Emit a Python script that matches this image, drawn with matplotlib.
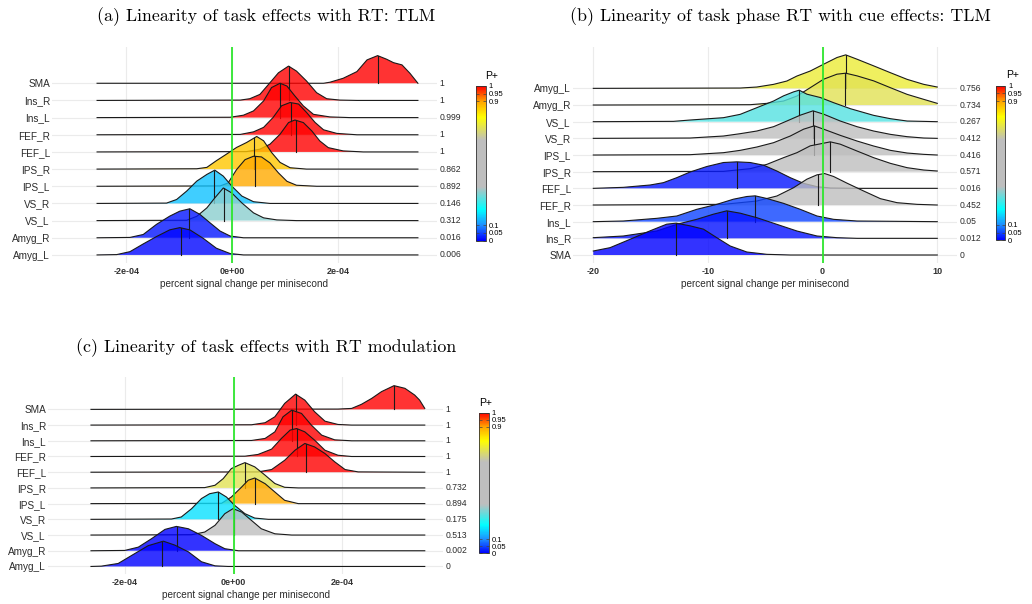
import numpy as np
import matplotlib
matplotlib.use("Agg")
import matplotlib.pyplot as plt
import matplotlib.transforms as mtransforms
from matplotlib.colors import LinearSegmentedColormap, Normalize
from matplotlib.cm import ScalarMappable

plt.rcParams["font.family"] = ["Liberation Sans", "DejaVu Sans"]

W, H = 1032, 604
XLABEL = "percent signal change per minisecond"

# =====================================================
#  data (ridge knots; heights in row units)
# =====================================================
# (a) task effects with RT: TLM   (x in 1e-4)
A_TITLE = "(a) Linearity of task effects with RT: TLM"
A_REGIONS = ["SMA", "Ins_R", "Ins_L", "FEF_R", "FEF_L", "IPS_R", "IPS_L", "VS_R", "VS_L", "Amyg_R", "Amyg_L"]
A_P = [1, 1, 0.999, 1, 1, 0.862, 0.892, 0.146, 0.312, 0.016, 0.006]
A_MED = [2.74, 1.06, 0.90, 1.10, 1.20, 0.40, 0.42, -0.35, -0.16, -0.81, -0.97]
A_RANGE = (-2.55, 3.50)
A_X = [
    [1.72, 1.84, 2.09, 2.35, 2.54, 2.74, 2.91, 3.04, 3.20, 3.35, 3.50],
    [0.15, 0.33, 0.52, 0.71, 0.87, 1.06, 1.21, 1.40, 1.59, 1.78, 2.03, 2.35],
    [-0.04, 0.21, 0.40, 0.59, 0.74, 0.90, 1.03, 1.18, 1.34, 1.53, 1.84, 2.22],
    [0.15, 0.40, 0.59, 0.77, 0.93, 1.09, 1.25, 1.40, 1.56, 1.72, 1.97, 2.35],
    [0.27, 0.52, 0.71, 0.90, 1.06, 1.18, 1.34, 1.50, 1.65, 1.81, 2.09, 2.47],
    [-0.67, -0.48, -0.30, -0.11, 0.08, 0.27, 0.46, 0.59, 0.74, 0.90, 1.09, 1.40],
    [-0.23, -0.08, 0.08, 0.24, 0.40, 0.55, 0.71, 0.87, 1.03, 1.21, 1.59],
    [-1.24, -1.05, -0.86, -0.67, -0.48, -0.33, -0.17, -0.01, 0.18, 0.40, 0.71],
    [-0.86, -0.67, -0.48, -0.33, -0.17, -0.01, 0.18, 0.40, 0.59, 0.84, 1.21],
    [-1.93, -1.68, -1.43, -1.18, -0.99, -0.80, -0.61, -0.42, -0.23, -0.04, 0.21],
    [-2.18, -1.93, -1.68, -1.43, -1.18, -0.99, -0.80, -0.55, -0.30, -0.04, 0.21],
]
A_H = [
    [0, 0.06, 0.29, 0.68, 1.36, 1.61, 1.40, 1.20, 1.07, 0.58, 0],
    [0.02, 0.10, 0.35, 1.03, 1.61, 2.00, 1.71, 1.13, 0.45, 0.10, 0.02, 0],
    [0.02, 0.14, 0.39, 0.97, 1.75, 2.00, 1.84, 1.26, 0.68, 0.19, 0.04, 0],
    [0.02, 0.17, 0.43, 1.01, 1.69, 1.88, 1.79, 1.30, 0.72, 0.29, 0.08, 0],
    [0.02, 0.16, 0.45, 1.03, 1.71, 1.86, 1.71, 1.22, 0.64, 0.25, 0.06, 0],
    [0.02, 0.10, 0.49, 0.87, 1.26, 1.55, 1.90, 1.65, 0.97, 0.39, 0.08, 0],
    [0.02, 0.19, 0.97, 1.55, 1.75, 1.71, 1.36, 0.78, 0.29, 0.06, 0],
    [0.02, 0.23, 0.72, 1.30, 1.69, 1.94, 1.59, 1.01, 0.43, 0.10, 0],
    [0.02, 0.25, 0.74, 1.32, 1.90, 1.61, 1.03, 0.45, 0.16, 0.04, 0],
    [0.02, 0.19, 0.78, 1.26, 1.55, 1.69, 1.36, 0.87, 0.39, 0.10, 0],
    [0.02, 0.19, 0.64, 1.07, 1.46, 1.59, 1.46, 0.97, 0.39, 0.08, 0],
]

# (b) task phase RT with cue effects: TLM
B_TITLE = "(b) Linearity of task phase RT with cue effects: TLM"
B_REGIONS = ["Amyg_L", "Amyg_R", "VS_L", "VS_R", "IPS_L", "IPS_R", "FEF_L", "FEF_R", "Ins_L", "Ins_R", "SMA"]
B_P = [0.756, 0.734, 0.267, 0.412, 0.416, 0.571, 0.016, 0.452, 0.05, 0.012, 0]
B_MED = [2.01, 1.98, -2.04, -0.84, -0.73, 0.61, -7.48, -0.41, -5.91, -8.36, -12.78]
B_RANGE = (-20, 10)
B_X = [
    [-7.19, -5.74, -4.28, -3.12, -2.24, -1.08, 0.09, 1.25, 2.01, 3.00, 4.45, 5.91, 7.37, 8.82, 10.0],
    [-6.32, -4.86, -3.41, -2.24, -1.08, 0.09, 1.25, 2.01, 3.00, 4.45, 5.91, 7.37, 8.82, 10.0],
    [-13.01, -11.56, -8.65, -7.19, -5.74, -4.28, -3.41, -2.53, -2.04, -1.37, -0.20, 0.96, 2.42, 4.45, 5.91, 7.37],
    [-11.56, -8.65, -7.19, -5.74, -4.28, -3.12, -1.95, -0.84, 0.09, 1.54, 3.00, 4.45, 5.91, 7.37, 8.82],
    [-11.56, -8.65, -7.19, -5.74, -4.28, -2.82, -1.66, -0.73, 0.09, 1.54, 3.00, 4.45, 5.91, 7.37, 8.82],
    [-8.65, -6.32, -4.86, -3.41, -2.24, -1.08, 0.09, 0.67, 1.54, 3.00, 4.45, 5.91, 7.37, 8.82, 10.0],
    [-17.38, -15.05, -13.89, -12.72, -11.56, -10.10, -8.65, -7.48, -6.32, -5.15, -3.99, -2.82, -1.66, -0.49, 0.67, 3.00],
    [-8.65, -5.74, -3.99, -2.53, -1.37, -0.49, 0.17, 0.96, 2.13, 3.58, 5.04, 6.49, 8.24],
    [-17.38, -14.47, -12.72, -10.98, -9.23, -7.77, -6.61, -5.88, -4.86, -3.41, -1.95, -0.49, 0.96, 3.00],
    [-20.0, -17.38, -14.47, -12.72, -10.98, -9.52, -8.36, -7.19, -5.74, -3.99, -2.24, -0.49, 1.25, 3.00],
    [-20.0, -18.54, -16.80, -15.05, -13.60, -12.78, -11.56, -10.39, -9.23, -8.06, -6.61, -4.86, -2.82],
]
B_H = [
    [0.02, 0.08, 0.24, 0.44, 0.74, 1.04, 1.45, 1.85, 2.01, 1.75, 1.35, 0.94, 0.54, 0.24, 0.08],
    [0.02, 0.10, 0.24, 0.54, 1.04, 1.55, 1.85, 1.91, 1.75, 1.45, 1.04, 0.64, 0.34, 0.10],
    [0.02, 0.10, 0.24, 0.44, 0.84, 1.24, 1.55, 1.79, 1.89, 1.65, 1.45, 1.14, 0.78, 0.38, 0.18, 0.04],
    [0.02, 0.14, 0.28, 0.44, 0.70, 1.04, 1.39, 1.65, 1.45, 1.04, 0.70, 0.44, 0.24, 0.10, 0.02],
    [0.02, 0.14, 0.28, 0.48, 0.74, 1.14, 1.55, 1.75, 1.55, 1.18, 0.84, 0.54, 0.28, 0.12, 0.04],
    [0.02, 0.18, 0.44, 0.84, 1.14, 1.55, 1.71, 1.79, 1.65, 1.24, 0.84, 0.50, 0.24, 0.10, 0.04],
    [0.06, 0.20, 0.34, 0.64, 0.98, 1.31, 1.55, 1.59, 1.55, 1.39, 1.04, 0.64, 0.30, 0.10, 0.02, 0],
    [0.04, 0.24, 0.54, 1.04, 1.55, 1.81, 1.89, 1.71, 1.31, 0.84, 0.38, 0.14, 0.04],
    [0.04, 0.20, 0.34, 0.74, 1.04, 1.35, 1.51, 1.55, 1.39, 1.10, 0.74, 0.34, 0.14, 0.04],
    [0.04, 0.14, 0.44, 0.84, 1.14, 1.45, 1.65, 1.51, 1.24, 0.84, 0.44, 0.14, 0.04, 0],
    [0.24, 0.44, 0.94, 1.45, 1.85, 1.91, 1.75, 1.55, 1.04, 0.54, 0.18, 0.04, 0],
]

# (c) task effects with RT modulation   (x in 1e-4)
C_TITLE = "(c) Linearity of task effects with RT modulation"
C_REGIONS = ["SMA", "Ins_R", "Ins_L", "FEF_R", "FEF_L", "IPS_R", "IPS_L", "VS_R", "VS_L", "Amyg_R", "Amyg_L"]
C_P = [1, 1, 1, 1, 1, 0.732, 0.894, 0.175, 0.513, 0.002, 0]
C_MED = [2.95, 1.14, 1.08, 1.16, 1.34, 0.21, 0.39, -0.29, 0.01, -1.04, -1.32]
C_RANGE = (-2.62, 3.515)
C_X = [
    [1.92, 2.17, 2.35, 2.54, 2.72, 2.95, 3.15, 3.33, 3.42, 3.515],
    [0.33, 0.58, 0.76, 0.94, 1.14, 1.31, 1.49, 1.68, 1.92, 2.17],
    [0.33, 0.58, 0.76, 0.91, 1.07, 1.25, 1.43, 1.62, 1.86, 2.17],
    [0.21, 0.45, 0.70, 0.88, 1.04, 1.16, 1.31, 1.49, 1.68, 1.92, 2.17],
    [0.45, 0.70, 0.94, 1.13, 1.31, 1.49, 1.68, 1.86, 2.05, 2.29],
    [-0.53, -0.34, -0.19, -0.04, 0.09, 0.21, 0.39, 0.58, 0.76, 0.94, 1.19],
    [-0.22, -0.04, 0.15, 0.27, 0.39, 0.58, 0.76, 0.94, 1.19],
    [-1.14, -0.96, -0.77, -0.59, -0.44, -0.28, -0.13, 0.02, 0.21, 0.39, 0.64],
    [-0.77, -0.53, -0.34, -0.16, -0.01, 0.15, 0.33, 0.51, 0.76, 1.07],
    [-2.00, -1.75, -1.51, -1.26, -1.05, -0.83, -0.59, -0.34, -0.16, 0.09],
    [-2.43, -2.12, -1.81, -1.57, -1.29, -1.08, -0.83, -0.59, -0.34, -0.10],
]
C_H = [
    [0.02, 0.06, 0.32, 0.70, 1.13, 1.51, 1.34, 0.91, 0.59, 0.06],
    [0.02, 0.15, 0.53, 1.38, 1.97, 1.59, 0.85, 0.25, 0.04, 0],
    [0.02, 0.15, 0.57, 1.53, 1.95, 1.74, 1.00, 0.36, 0.06, 0],
    [0.02, 0.13, 0.47, 1.15, 1.68, 1.78, 1.57, 1.04, 0.40, 0.08, 0],
    [0.02, 0.17, 0.76, 1.40, 1.83, 1.61, 1.19, 0.66, 0.17, 0.02],
    [0.02, 0.17, 0.59, 1.23, 1.44, 1.61, 1.34, 0.81, 0.28, 0.04, 0],
    [0.02, 0.42, 1.06, 1.49, 1.63, 1.27, 0.74, 0.21, 0],
    [0.02, 0.15, 0.68, 1.32, 1.63, 1.74, 1.42, 0.89, 0.36, 0.08, 0],
    [0.02, 0.19, 0.62, 1.36, 1.68, 1.46, 0.93, 0.40, 0.08, 0],
    [0.02, 0.23, 0.76, 1.36, 1.55, 1.40, 0.98, 0.45, 0.13, 0],
    [0.02, 0.19, 0.83, 1.32, 1.61, 1.36, 0.93, 0.30, 0.04, 0],
]

# P+ colour scale
CB_TICKS = [0, 0.05, 0.1, 0.9, 0.95, 1]
CMAP_POS = [0.0, 0.1, 0.2, 0.35, 0.65, 0.8, 0.9, 1.0]
CMAP_COL = ["#0000FF", "#1E90FF", "#00FFFF", "#BEBEBE", "#BEBEBE", "#FFFF00", "#FFA500", "#FF0000"]
cmap = LinearSegmentedColormap.from_list("pplus", list(zip(CMAP_POS, CMAP_COL)))


def px(l, t, r, b):
    return [l / W, 1 - b / H, (r - l) / W, (b - t) / H]


def ridges(ax, regions, pvals, med, xs, hs, xr, unit, xlim, ylim, ticks, ticklabels):
    n = len(regions)
    lo, hi = xr[0] * unit, xr[1] * unit
    for i in range(n):
        base = n - 1 - i
        x = [v * unit for v in xs[i]]
        h = list(hs[i])
        if x[0] > lo + 1e-12 * unit:
            x, h = [lo] + x, [0] + h
        if x[-1] < hi - 1e-12 * unit:
            x, h = x + [hi], h + [0]
        x, h = np.array(x), np.array(h)
        z = 2 + i
        col = cmap(float(pvals[i]))          # float, an int would index the LUT
        ax.fill_between(x, base, base + h, facecolor=col, alpha=0.8, lw=0, zorder=z)
        ax.plot(x, base + h, color="#1a1a1a", lw=0.8, zorder=z + 0.5, solid_joinstyle="round")
        m = med[i] * unit
        ax.plot([m, m], [base, base + np.interp(m, x, h)], color="#1a1a1a", lw=0.8, zorder=z + 0.5)
    ax.axvline(0, color="#2EE62E", lw=1.3, zorder=50)

    ax.set_xlim(xlim[0] * unit, xlim[1] * unit)
    ax.set_ylim(*ylim)
    ax.set_xticks([t * unit for t in ticks])
    ax.set_xticklabels(ticklabels, fontsize=6.5, fontweight="bold", color="#333333")
    ax.set_yticks(range(n - 1, -1, -1))
    ax.set_yticklabels(regions, fontsize=7.2, color="#2b2b2b")
    ax.tick_params(length=0, pad=1.5)
    ax.tick_params(axis="x", pad=3)
    ax.grid(True, color="#EBEBEB", lw=0.8)
    ax.set_axisbelow(True)
    for s in ax.spines.values():
        s.set_visible(False)
    ax.set_xlabel(XLABEL, fontsize=7.2, color="#2b2b2b", labelpad=2)

    trans = mtransforms.blended_transform_factory(ax.transAxes, ax.transData)
    for i, p in enumerate(pvals):
        ax.text(1.006, n - 1 - i, f"{p:g}", transform=trans, ha="left", va="center",
                fontsize=6.2, color="#2b2b2b")


def colorbar(fig, rect, title_xy):
    cax = fig.add_axes(rect)
    cb = fig.colorbar(ScalarMappable(norm=Normalize(0, 1), cmap=cmap), cax=cax, ticks=CB_TICKS)
    cb.ax.set_yticklabels([f"{t:g}" for t in CB_TICKS])
    cb.ax.tick_params(labelsize=5.5, length=2, width=0.5, direction="in", left=True, right=True,
                      color="#444444", pad=2)
    cb.outline.set_linewidth(0.6)
    cb.outline.set_edgecolor("#333333")
    fig.text(title_xy[0] / W, 1 - title_xy[1] / H, "P+", fontsize=7.5, ha="left", va="center")


fig = plt.figure(figsize=(W / 100, H / 100), dpi=100)

ax_a = fig.add_axes(px(52, 46.7, 437, 263))
ridges(ax_a, A_REGIONS, A_P, A_MED, A_X, A_H, A_RANGE, 1e-4, (-3.40, 3.86), (-0.47, 12.13),
       [-2, 0, 2], ["-2e-04", "0e+00", "2e-04"])
ax_b = fig.add_axes(px(573, 46.7, 957, 263))
ridges(ax_b, B_REGIONS, B_P, B_MED, B_X, B_H, B_RANGE, 1, (-21.77, 11.72), (-0.48, 12.5),
       [-20, -10, 0, 10], ["-20", "-10", "0", "10"])
ax_c = fig.add_axes(px(48, 376.7, 443, 574))
ridges(ax_c, C_REGIONS, C_P, C_MED, C_X, C_H, C_RANGE, 1e-4, (-3.41, 3.85), (-0.48, 12.08),
       [-2, 0, 2], ["-2e-04", "0e+00", "2e-04"])

colorbar(fig, px(476, 86, 486, 240.7), (485, 76))
colorbar(fig, px(995.7, 85.7, 1005.3, 240.3), (1006, 75))
colorbar(fig, px(479.3, 412.7, 489, 553.3), (479, 403))

for txt, x, y in [(A_TITLE, 266, 17), (B_TITLE, 780, 17), (C_TITLE, 266, 348)]:
    fig.text(x / W, 1 - y / H, txt, ha="center", va="center", fontsize=12.9, family="cmr10")

fig.savefig("out.png", dpi=100)
plt.close(fig)
